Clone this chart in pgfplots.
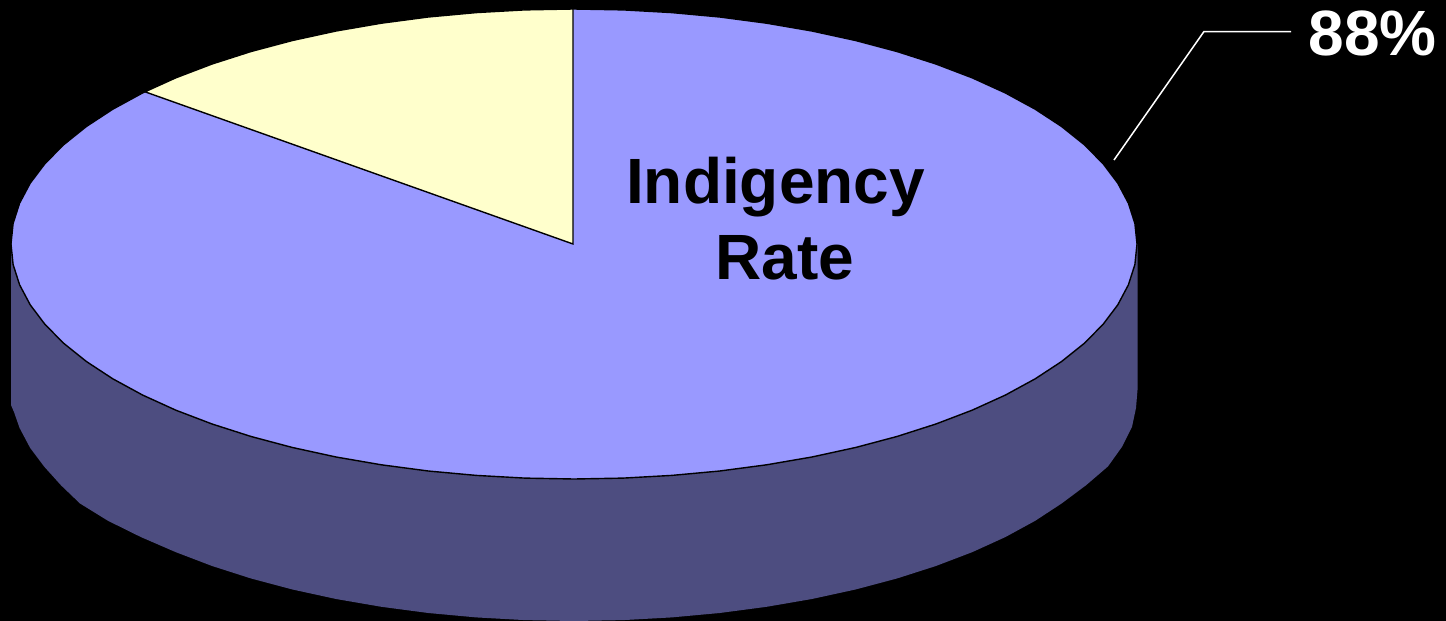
\documentclass[border=0pt]{standalone}
\usepackage{pgfplots}
\pgfplotsset{compat=1.18}
\usepackage{fontspec}
\setmainfont{Liberation Sans}
\definecolor{pietop}{HTML}{9999FF}
\definecolor{pieside}{HTML}{4D4D80}
\definecolor{pieslice}{HTML}{FFFFCC}
\begin{document}
\begin{tikzpicture}
\begin{axis}[
  width=1446pt, height=621pt, scale only axis,
  xmin=0, xmax=1446, ymin=0, ymax=621, y dir=reverse,
  enlargelimits=false, ticks=none,
  axis line style={draw=none},
  axis background/.style={fill=black},
]
% side wall of the cylinder
\addplot[fill=pieside, draw=none] coordinates {
(11,244)(11,405)(14,412)(19.6,428)(30.2,448)(44,466.4)(61,485.3)(80,503.5)(108,520.8)(141,537.1)(175.9,552.2)(212.1,566)(251.1,578.5)(292.5,589.5)(336.1,599)(381.4,606.8)(428.3,613)(476.2,617.4)(524.9,620.1)(574,621)
(623.1,620.1)(671.8,617.4)(719.7,613)(766.6,606.8)(811.9,599)(855.5,589.5)(896.9,578.5)(935.9,566)(972.1,552.2)(1005.3,537.1)(1035.2,520.8)(1061.6,503.5)(1086,485.3)(1108,466.4)(1122,446.8)(1132,426.8)(1136,408)(1137.5,390)(1137.5,244)
} -- cycle;
% top face, large slice
\addplot[fill=pietop, draw=black, line width=1.4pt] coordinates {
(1137,244)(1134.9,264.5)(1128.4,284.8)(1117.8,304.8)(1103,324.4)(1084.3,343.3)(1061.6,361.5)(1035.2,378.8)(1005.3,395.1)(972.1,410.2)(935.9,424)(896.9,436.5)(855.5,447.5)(811.9,457)(766.6,464.8)(719.7,471)(671.8,475.4)(623.1,478.1)(574,479)
(524.9,478.1)(476.2,475.4)(428.3,471)(381.4,464.8)(336.1,457)(292.5,447.5)(251.1,436.5)(212.1,424)(175.9,410.2)(142.7,395.1)(112.8,378.8)(86.4,361.5)(63.7,343.3)(45,324.4)(30.2,304.8)(19.6,284.8)(13.1,264.5)(11,244)
(13.1,223.5)(19.6,203.2)(30.2,183.2)(45,163.6)(63.7,144.7)(86.4,126.5)(112.8,109.2)(142.7,92.9)(175.9,77.8)(212.1,64)(251.1,51.5)(292.5,40.5)(336.1,31)(381.4,23.2)(428.3,17)(476.2,12.6)(524.9,9.9)(574,9)
(623.1,9.9)(671.8,12.6)(719.7,17)(766.6,23.2)(811.9,31)(855.5,40.5)(896.9,51.5)(935.9,64)(972.1,77.8)(1005.3,92.9)(1035.2,109.2)(1061.6,126.5)(1084.3,144.7)(1103,163.6)(1117.8,183.2)(1128.4,203.2)(1134.9,223.5)
} -- cycle;
% top face, small slice
\addplot[fill=pieslice, draw=black, line width=1.4pt] coordinates {
(573,244)(573,9)(524.9,9.9)(476.2,12.6)(428.3,17)(381.4,23.2)(336.1,31)(292.5,40.5)(251.1,51.5)(212.1,64)(175.9,77.8)(145,91.8)
} -- cycle;
% leader line
\addplot[white, line width=1.5pt] coordinates {(1114,160)(1204,31.5)(1291,31.5)};
\node[anchor=base, inner sep=0pt, white, font=\fontsize{64}{75}\selectfont\bfseries] at (axis cs:1372.5,55.5) {88\%};
\node[anchor=base, inner sep=0pt, black, font=\fontsize{64}{75}\selectfont\bfseries] at (axis cs:775.5,203.5) {Indigency};
\node[anchor=base, inner sep=0pt, black, font=\fontsize{64}{75}\selectfont\bfseries] at (axis cs:785,279.5) {Rate};
\end{axis}
\end{tikzpicture}
\end{document}
